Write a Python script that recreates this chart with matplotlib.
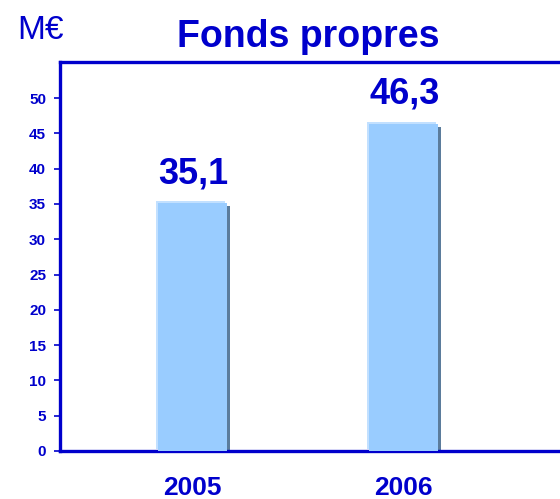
import matplotlib
matplotlib.use("Agg")
import matplotlib.pyplot as plt
import matplotlib.transforms as mtransforms

categories = ["2005", "2006"]
values = [35.1, 46.3]
value_labels = ["35,1", "46,3"]
yticks = [0, 5, 10, 15, 20, 25, 30, 35, 40, 45, 50]

BLUE = "#0000CC"
FACE = "#99CCFF"
HILITE = "#C2E0FF"
SHADOW = "#5B7C9C"

plt.rcParams['font.family'] = ['Liberation Sans', 'DejaVu Sans']

fig = plt.figure(figsize=(5.6, 4.99), dpi=100)
ax = fig.add_axes([60/560, 48/499, 1.0, (451-62)/499])

x = list(range(len(categories)))
w = 0.327

def offset(dx, dy):
    return ax.transData + mtransforms.ScaledTranslation(dx/100, dy/100, fig.dpi_scale_trans)

# shadow
sh = ax.bar(x, values, width=w, color=SHADOW, zorder=2)
for p in sh:
    p.set_transform(offset(3, -3))
# highlight
hl = ax.bar(x, values, width=w, color=HILITE, zorder=3)
for p in hl:
    p.set_transform(offset(-2, 2))
# face
ax.bar(x, values, width=w, color=FACE, zorder=4)

for xi, v, lab in zip(x, values, value_labels):
    ax.annotate(lab, (xi, v), xytext=(1, 14.5), textcoords='offset points',
                ha='center', va='baseline', fontsize=26, fontweight='bold', color=BLUE)

ax.set_xlim(-0.626, 2.028)
ax.set_ylim(0, 55.1)
ax.set_yticks(yticks)
ax.set_yticklabels([str(t) for t in yticks], fontsize=11, fontweight='bold', color=BLUE)
ax.tick_params(axis='y', direction='out', length=4, width=1.2, color=BLUE, pad=6)
ax.set_xticks(x)
ax.set_xticklabels(categories, fontsize=19, fontweight='bold', color=BLUE)
ax.tick_params(axis='x', length=0, pad=18)

for s in ax.spines.values():
    s.set_color(BLUE)
    s.set_linewidth(2.4)

fig.text(308/560, 1-47/499, "Fonds propres", ha='center', va='baseline',
         fontsize=27, fontweight='bold', color=BLUE)
fig.text(17/560, 1-39/499, "M€", ha='left', va='baseline', fontsize=24, color=BLUE)

fig.savefig("out.png", dpi=100)
